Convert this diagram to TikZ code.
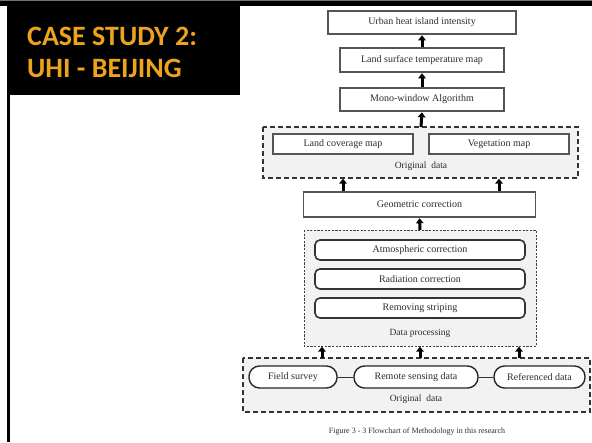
\documentclass[tikz,border=0pt]{standalone}
\usepackage{fontspec}
\setmainfont{Liberation Serif}
\newfontfamily\titlefont{Carlito}
\usetikzlibrary{arrows.meta,calc}
\definecolor{titleorange}{RGB}{238,163,28}
\definecolor{groupfill}{RGB}{242,242,242}
\definecolor{boxline}{RGB}{85,85,85}
\definecolor{txt}{RGB}{45,45,45}
\tikzset{
  sqbox/.style={draw=boxline, line width=1.4pt, fill=white, inner sep=0pt,
    font=\fontsize{10}{12}\selectfont, text=txt},
  rbox/.style={draw=black!80, line width=1.6pt, fill=white, rounded corners=5pt,
    inner sep=0pt, font=\fontsize{10}{12}\selectfont, text=txt},
  stadium/.style={draw=black!85, line width=1.4pt, fill=white, rounded corners=10.5pt,
    inner sep=0pt, font=\fontsize{10}{12}\selectfont, text=txt},
  grp/.style={draw=black!80, fill=groupfill, line width=1.5pt, dash pattern=on 5pt off 3pt},
  grpfine/.style={draw=black!75, fill=groupfill, line width=1pt, dash pattern=on 2.2pt off 1.4pt},
  grplabel/.style={font=\fontsize{9.5}{11}\selectfont, text=txt, inner sep=0pt},
  uparrow/.style={draw=black, line width=3pt, -{Triangle[width=7.5pt,length=5pt]}, shorten >=0.6pt},
  joinline/.style={draw=black!80, line width=1pt},
}
\begin{document}
\begin{tikzpicture}[x=1pt,y=-1pt]
\useasboundingbox (0,0) rectangle (592,442);
\fill[white] (0,0) rectangle (592,442);
% frame
\fill[black!55] (0,0) rectangle (592,1.2);
\fill[black] (0,1.2) rectangle (592,6);
\fill[black] (7,6) rectangle (240,95);
\fill[black] (7,95) rectangle (10,442);
\node[anchor=base west, inner sep=0pt, text=titleorange, font=\titlefont\bfseries\fontsize{28}{32}\selectfont] (t1) at (27,45) {CASE STUDY 2:};
\node[anchor=base west, inner sep=0pt, text=titleorange, font=\titlefont\bfseries\fontsize{28}{32}\selectfont] (t2) at (27,77.5) {UHI - BEIJING};
% groups
\draw[grp] (263,127) rectangle (578,178);
\coordinate (g1n) at (421,127); \coordinate (g1s) at (421,178);
\draw[grpfine] (304,230) rectangle (536,346);
\coordinate (dpn) at (420,230); \coordinate (dps) at (420,346);
\draw[grp] (243,358) rectangle (590,412);
\coordinate (bgn) at (420,358);
% top chain
\node[sqbox, minimum width=188pt, minimum height=23pt] (u1) at (422,22.5) {Urban heat island intensity};
\node[sqbox, minimum width=164pt, minimum height=24pt] (u2) at (422,60) {Land surface temperature map};
\node[sqbox, minimum width=164pt, minimum height=23pt] (u3) at (422,99.5) {Mono-window Algorithm};
\node[sqbox, minimum width=140pt, minimum height=20pt] (lc) at (343,144) {Land coverage map};
\node[sqbox, minimum width=140pt, minimum height=20pt] (veg) at (499,144) {Vegetation map};
\node[grplabel] (ol1) at (421,166) {Original\ \ data};
\node[sqbox, minimum width=232pt, minimum height=25pt] (geo) at (419.5,204.5) {Geometric correction};
% data processing
\node[rbox, minimum width=210pt, minimum height=20pt] (atm) at (420,250) {Atmospheric correction};
\node[rbox, minimum width=210pt, minimum height=20pt] (rad) at (420,279) {Radiation correction};
\node[rbox, minimum width=210pt, minimum height=20pt] (rem) at (420,308) {Removing striping};
\node[grplabel] (dpl) at (420,333) {Data processing};
% bottom
\node[stadium, minimum width=88pt, minimum height=22pt] (fs) at (293,377) {Field survey};
\node[stadium, minimum width=124pt, minimum height=22pt] (rs) at (416,377) {Remote sensing data};
\node[stadium, minimum width=91pt, minimum height=22pt] (rf) at (539.5,377) {Referenced data};
\node[grplabel] (ol2) at (416,399) {Original\ \ data};
\draw[joinline] (fs.east) -- (rs.west);
\draw[joinline] (rs.east) -- (rf.west);
% caption
\node[inner sep=0pt, font=\fontsize{8}{10}\selectfont, text=txt] (cap) at (417,432) {Figure 3 - 3 Flowchart of Methodology in this research};
% arrows
\draw[uparrow] (u2.north) -- (u1.south);
\draw[uparrow] (u3.north) -- (u2.south);
\draw[uparrow] (g1n) -- (u3.south);
\draw[uparrow] (geo.north -| lc.south) -- (lc.south |- g1s);
\draw[uparrow] (geo.north -| veg.south) -- (veg.south |- g1s);
\draw[uparrow] (dpn) -- (geo.south);
\draw[uparrow] ($(bgn)+(-98,0)$) -- ($(dps)+(-98,0)$);
\draw[uparrow] (bgn) -- (dps);
\draw[uparrow] ($(bgn)+(99,0)$) -- ($(dps)+(99,0)$);
\end{tikzpicture}
\end{document}
